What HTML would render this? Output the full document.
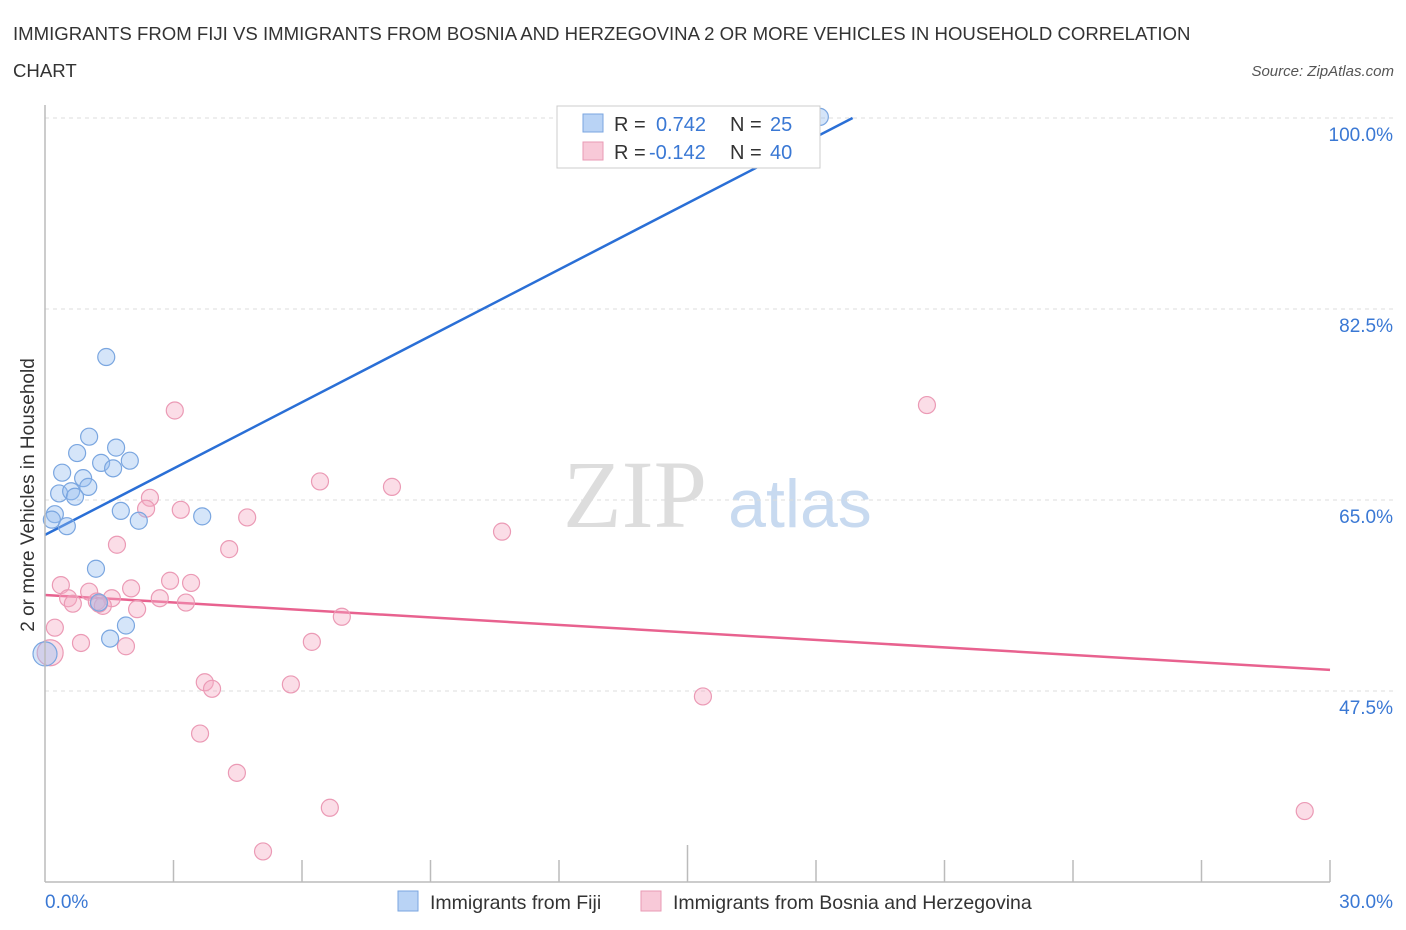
<!DOCTYPE html>
<html><head><meta charset="utf-8"><style>
body{margin:0;background:#fff;font-family:"Liberation Sans",sans-serif;}
svg{display:block}
</style></head><body>
<svg id="c" width="1406" height="930" xmlns="http://www.w3.org/2000/svg">
<text x="13" y="40" font-size="18.6" fill="#333">IMMIGRANTS FROM FIJI VS IMMIGRANTS FROM BOSNIA AND HERZEGOVINA 2 OR MORE VEHICLES IN HOUSEHOLD CORRELATION</text>
<text x="13" y="77" font-size="18.6" fill="#333">CHART</text>
<text x="1394" y="76" font-size="15" fill="#555" font-style="italic" text-anchor="end">Source: ZipAtlas.com</text>
<text x="635" y="527" font-size="96" fill="#ddd" font-family="Liberation Serif,serif" text-anchor="middle">ZIP</text>
<text x="800" y="527" font-size="68" fill="#c8daf0" text-anchor="middle">atlas</text>
<text transform="translate(34,495) rotate(-90)" font-size="19" fill="#333" text-anchor="middle">2 or more Vehicles in Household</text>
<g id="grid"></g><g id="ticks"></g><g id="lines"></g><g id="pts"></g>
<line x1="45" y1="105" x2="45" y2="882" stroke="#bbb" stroke-width="1.5"/>
<line x1="45" y1="882" x2="1330" y2="882" stroke="#bbb" stroke-width="1.5"/>
<text x="45" y="908" font-size="19" fill="#3a78d4">0.0%</text>
<text x="1393" y="908" font-size="19" fill="#3a78d4" text-anchor="end">30.0%</text>
<g>
<rect x="557" y="106" width="263" height="62" fill="#fff" stroke="#ccc"/>
<rect x="583" y="114" width="20" height="18" fill="#b9d3f5" stroke="#7aa6e0"/>
<rect x="583" y="142" width="20" height="18" fill="#f8c9d8" stroke="#e99ab4"/>
<text x="614" y="131" font-size="20" fill="#333">R =</text>
<text x="656" y="131" font-size="20" fill="#3a78d4">0.742</text>
<text x="730" y="131" font-size="20" fill="#333">N =</text>
<text x="770" y="131" font-size="20" fill="#3a78d4">25</text>
<text x="614" y="159" font-size="20" fill="#333">R =</text>
<text x="649" y="159" font-size="20" fill="#3a78d4">-0.142</text>
<text x="730" y="159" font-size="20" fill="#333">N =</text>
<text x="770" y="159" font-size="20" fill="#3a78d4">40</text>
</g>
<g>
<rect x="398" y="891" width="20" height="20" fill="#b9d3f5" stroke="#7aa6e0"/>
<text x="430" y="909" font-size="19.5" fill="#333">Immigrants from Fiji</text>
<rect x="641" y="891" width="20" height="20" fill="#f8c9d8" stroke="#e99ab4"/>
<text x="673" y="909" font-size="19.5" fill="#333">Immigrants from Bosnia and Herzegovina</text>
</g>
</svg>
<script>
const yTicks=[47.5,65,82.5,100];
const yTickLabels=["47.5%","65.0%","82.5%","100.0%"];
const fijiX=[1.43,1.03,1.66,0.75,1.31,1.98,1.59,0.40,0.89,1.01,0.33,0.61,0.70,1.77,3.67,0.23,0.16,2.19,0.51,1.19,1.89,1.26,1.52,0.0,18.09];
const fijiY=[78.1,70.8,69.8,69.3,68.4,68.6,67.9,67.5,67.0,66.2,65.6,65.8,65.3,64.0,63.5,63.7,63.2,63.1,62.6,58.7,53.5,55.6,52.3,50.9,100.1];
const bosX=[3.03,20.59,6.42,8.10,2.45,3.17,2.36,4.72,10.67,1.68,4.30,0.37,2.92,3.41,2.01,1.03,0.54,1.56,2.68,0.65,1.21,1.35,3.29,2.15,6.93,0.23,6.23,0.84,1.89,0.12,3.73,3.90,5.74,15.36,3.62,4.48,6.65,29.41,5.09,1.26];
const bosY=[73.2,73.7,66.7,66.2,65.2,64.1,64.2,63.4,62.1,60.9,60.5,57.2,57.6,57.4,56.9,56.6,56.0,56.0,56.0,55.5,55.7,55.3,55.6,55.0,54.3,53.3,52.0,51.9,51.6,51.0,48.3,47.7,48.1,47.0,43.6,40.0,36.8,36.5,32.8,55.5];
const fijiTrend=[61.8,2.026];
const bosTrend=[56.3,-0.229];
const X0=45,X1=1330,Y0=118,YS=10.914;
const sx=v=>X0+(v/30)*(X1-X0);
const sy=v=>Y0+(100-v)*YS;
const NS="http://www.w3.org/2000/svg";
function mk(t,a,p){const e=document.createElementNS(NS,t);for(const k in a)e.setAttribute(k,a[k]);p.appendChild(e);return e;}
const g=document.getElementById('grid');
yTicks.forEach((v,i)=>{
 const l=mk('line',{x1:45,x2:1394,y1:sy(v),y2:sy(v),stroke:'#ddd','stroke-dasharray':'4,4'},g);
 
 
 const t=mk('text',{x:1393,y:sy(v)+23,'font-size':19,fill:'#3a78d4','text-anchor':'end'},g);
 t.textContent=yTickLabels[i];
 
 
});
const tk=document.getElementById('ticks');
for(let i=1;i<=10;i++){
 const l=mk('line',{x1:sx(i*3),x2:sx(i*3),y1:(i==5?845:860),y2:882,stroke:'#bbb','stroke-width':1.5},tk);
 
 
}
const ln=document.getElementById('lines');
let xe=(100-fijiTrend[0])/fijiTrend[1];
let a=mk('line',{x1:sx(0),y1:sy(fijiTrend[0]),x2:sx(xe),y2:sy(100),stroke:'#2a6fd6','stroke-width':2.5},ln);


let b=mk('line',{x1:sx(0),y1:sy(bosTrend[0]),x2:sx(30),y2:sy(bosTrend[0]+30*bosTrend[1]),stroke:'#e8628f','stroke-width':2.5},ln);


const pg=document.getElementById('pts');
bosX.forEach((x,i)=>{
 const c=mk('circle',{cx:sx(x),cy:sy(bosY[i]),r:(i==29?13:8.5),fill:'rgba(245,170,195,0.4)',stroke:'#eb9ab5','stroke-width':1.2},pg);
 
 
});
fijiX.forEach((x,i)=>{
 const c=mk('circle',{cx:sx(x),cy:sy(fijiY[i]),r:(i==23?12:8.5),fill:'rgba(150,190,240,0.4)',stroke:'#7aa6e0','stroke-width':1.2},pg);
 
 
});
</script>
</body></html>
